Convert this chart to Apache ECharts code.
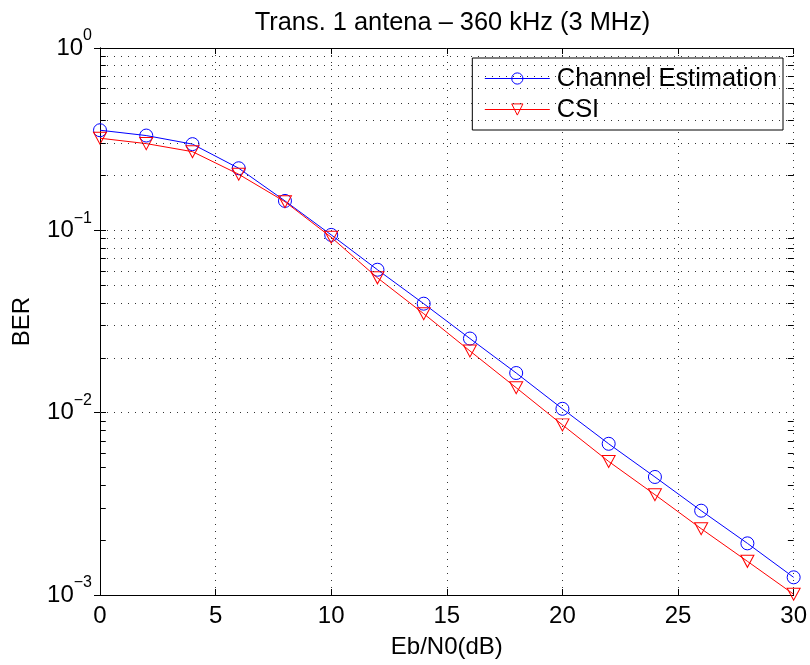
<!DOCTYPE html>
<html>
<head>
<meta charset="utf-8">
<script src="https://cdn.jsdelivr.net/npm/echarts@6/dist/echarts.min.js"></script>
<style>html,body{margin:0;padding:0;background:#fff;}#c{width:810px;height:665px;}</style>
</head>
<body>
<div id="c"></div>
<script>
const ebN0 = [0, 2, 4, 6, 8, 10, 12, 14, 16, 18, 20, 22, 24, 26, 28, 30];
const berChannelEst = [0.354, 0.331, 0.297, 0.219, 0.145, 0.0944, 0.0608, 0.0396, 0.0255, 0.0165, 0.0105, 0.00675, 0.00444, 0.00290, 0.00192, 0.00125];
const berCSI = [0.320, 0.299, 0.270, 0.203, 0.1435, 0.0916, 0.0549, 0.0349, 0.0218, 0.0137, 0.00857, 0.00540, 0.00355, 0.00231, 0.00153, 0.00101];
const xTicks = [0, 5, 10, 15, 20, 25, 30];
const yDecades = [1, 0.1, 0.01, 0.001];
const seriesNames = ['Channel Estimation', 'CSI'];
const titleText = 'Trans. 1 antena \u2013 360 kHz (3 MHz)';

const FONT = "'Liberation Sans', Arial, Helvetica, sans-serif";
const FS = 24;
const FS_BIG = 25.4;

const minorVals = [];
for (let k = -3; k <= -1; k++) {
  for (let m = 2; m <= 9; m++) minorVals.push(+(m * Math.pow(10, k)).toPrecision(3));
}
const minorGrid = minorVals.map(v => ({ yAxis: v }));
const minorTicks = [];
minorVals.forEach(v => {
  minorTicks.push([{ coord: [xTicks[0], v] }, { coord: [xTicks[0] + 0.25, v] }]);
  minorTicks.push([{ coord: [xTicks[xTicks.length - 1] - 0.25, v] }, { coord: [xTicks[xTicks.length - 1], v] }]);
});

function supLabel(v) {
  const e = Math.round(Math.log10(v));
  const s = e === 0 ? '0' : '\u2212' + (-e);
  return '{b|10}{s|' + s + '}';
}

const chart = echarts.init(document.getElementById('c'), null, { renderer: 'canvas' });
const gridLine = { show: true, lineStyle: { color: '#333', type: [1, 6], width: 1 } };
chart.setOption({
  animation: false,
  backgroundColor: '#fff',
  textStyle: { fontFamily: FONT },
  title: {
    text: titleText, left: 447.5, top: 5, textAlign: 'center',
    textStyle: { fontFamily: FONT, fontSize: FS_BIG, fontWeight: 'normal', color: '#000' }
  },
  legend: {
    data: seriesNames, orient: 'vertical', right: 27, top: 58,
    padding: [8, 6, 8, 12], itemGap: 6, itemWidth: 65, itemHeight: 14,
    backgroundColor: '#fff', borderColor: '#000', borderWidth: 1, borderRadius: 0,
    itemStyle: { borderWidth: 1 },
    lineStyle: { width: 1 },
    textStyle: { fontFamily: FONT, fontSize: FS_BIG, color: '#000', lineHeight: 24, padding: [0, 0, 0, 2] }
  },
  grid: { left: 100, right: 15, top: 48, bottom: 70, containLabel: false },
  xAxis: [{
    type: 'value', min: 0, max: 30, interval: 5,
    name: 'Eb/N0(dB)', nameLocation: 'middle', nameGap: 40,
    nameTextStyle: { fontFamily: FONT, fontSize: FS, color: '#000' },
    axisLine: { show: true, lineStyle: { color: '#000', width: 1 } },
    axisTick: { show: true, inside: true, length: 6, lineStyle: { color: '#000' } },
    axisLabel: { fontFamily: FONT, fontSize: FS, color: '#000', margin: 9 },
    splitLine: gridLine
  }, {
    type: 'value', min: 0, max: 30, interval: 5, position: 'top',
    axisLine: { show: true, lineStyle: { color: '#000', width: 1 } },
    axisTick: { show: true, inside: true, length: 6, lineStyle: { color: '#000' } },
    axisLabel: { show: false }, splitLine: { show: false }
  }],
  yAxis: [{
    type: 'log', logBase: 10, min: yDecades[3], max: yDecades[0],
    name: 'BER', nameLocation: 'middle', nameGap: 66,
    nameTextStyle: { fontFamily: FONT, fontSize: FS, color: '#000' },
    axisLine: { show: true, lineStyle: { color: '#000', width: 1 } },
    axisTick: { show: true, inside: true, length: 6, lineStyle: { color: '#000' } },
    axisLabel: {
      formatter: supLabel, margin: 8, color: '#000',
      rich: {
        b: { fontFamily: FONT, fontSize: FS, lineHeight: 40, verticalAlign: 'middle', color: '#000' },
        s: { fontFamily: FONT, fontSize: 16, lineHeight: 12, verticalAlign: 'top', color: '#000' }
      }
    },
    splitLine: gridLine
  }, {
    type: 'log', logBase: 10, min: yDecades[3], max: yDecades[0], position: 'right',
    axisLine: { show: true, lineStyle: { color: '#000', width: 1 } },
    axisTick: { show: true, inside: true, length: 6, lineStyle: { color: '#000' } },
    axisLabel: { show: false }, splitLine: { show: false }
  }],
  series: [{
    name: seriesNames[0], type: 'line', xAxisIndex: 0, yAxisIndex: 0,
    data: ebN0.map((x, i) => [x, berChannelEst[i]]),
    color: '#0000ff', clip: false,
    symbol: 'circle', symbolSize: 13, showAllSymbol: true,
    lineStyle: { color: '#0000ff', width: 1 },
    itemStyle: { color: 'rgba(255,255,255,0)', borderColor: '#0000ff', borderWidth: 1 },
    z: 3,
    markLine: {
      silent: true, symbol: 'none', animation: false,
      label: { show: false },
      lineStyle: { color: '#333', type: [1, 6], width: 1 },
      emphasis: { disabled: true },
      data: minorGrid
    }
  }, {
    name: seriesNames[1], type: 'line', xAxisIndex: 0, yAxisIndex: 0,
    data: ebN0.map((x, i) => [x, berCSI[i]]),
    color: '#ff0000', clip: false,
    symbol: 'path://M0,0L10,0L5,9Z', symbolSize: [13, 12], symbolKeepAspect: false, showAllSymbol: true,
    lineStyle: { color: '#ff0000', width: 1 },
    itemStyle: { color: 'rgba(255,255,255,0)', borderColor: '#ff0000', borderWidth: 1 },
    z: 4,
    markLine: {
      silent: true, symbol: 'none', animation: false,
      label: { show: false },
      lineStyle: { color: '#000', type: 'solid', width: 1 },
      emphasis: { disabled: true },
      data: minorTicks
    }
  }]
});
</script>
</body>
</html>
